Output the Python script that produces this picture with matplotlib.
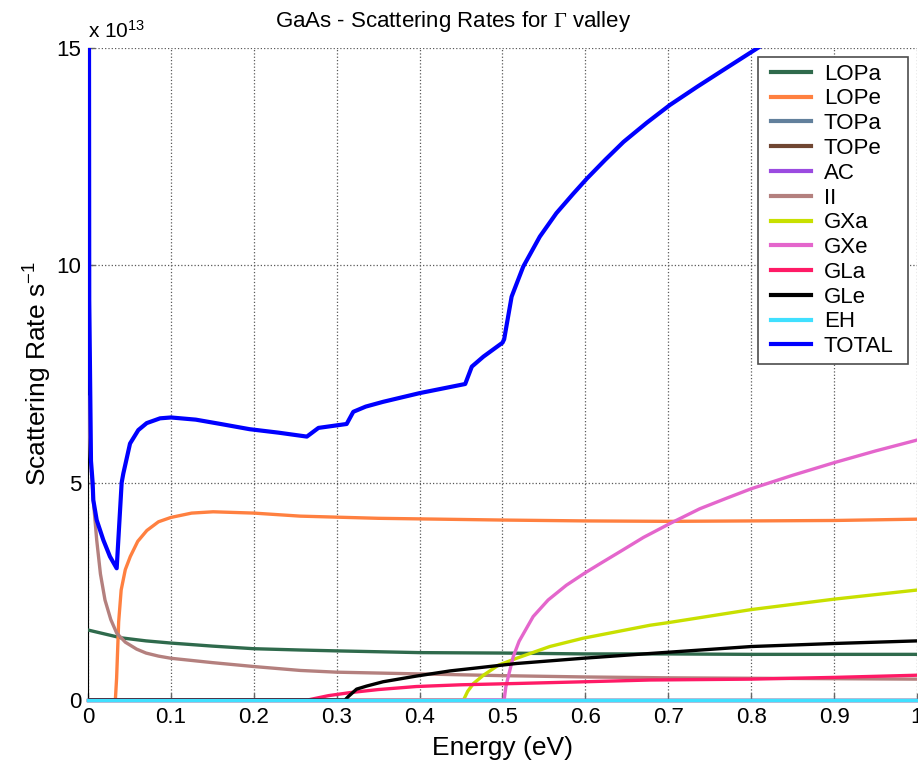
import matplotlib
matplotlib.use('Agg')
import matplotlib.pyplot as plt
import numpy as np
from matplotlib.lines import Line2D
from matplotlib.legend_handler import HandlerLine2D

plt.rcParams['font.family'] = ['Liberation Sans', 'DejaVu Sans']
plt.rcParams['mathtext.fontset'] = 'custom'
plt.rcParams['mathtext.rm'] = 'Liberation Serif'
plt.rcParams['mathtext.sf'] = 'Liberation Sans'
plt.rcParams['mathtext.it'] = 'Liberation Sans:italic'

# rates in units of 1e13 s^-1, energy in eV
E_lopa = [0, 0.02, 0.04, 0.07, 0.1, 0.15, 0.2, 0.256, 0.3, 0.4, 0.5, 0.6, 0.7, 0.8, 0.9, 1.0]
lopa = [1.61, 1.52, 1.43, 1.36, 1.31, 1.24, 1.18, 1.15, 1.13, 1.09, 1.08, 1.06, 1.06, 1.05, 1.05, 1.05]

E_lope = [0.0, 0.033, 0.0345, 0.037, 0.04, 0.045, 0.051, 0.06, 0.071, 0.085, 0.1, 0.125, 0.151,
          0.2, 0.256, 0.35, 0.5, 0.6, 0.7, 0.8, 0.9, 1.0]
lope = [0, 0, 0.5, 1.8, 2.53, 3.0, 3.3, 3.65, 3.9, 4.1, 4.2, 4.3, 4.33,
        4.3, 4.23, 4.18, 4.14, 4.12, 4.11, 4.12, 4.13, 4.16]

E_zero = [0.0, 1.0]
topa = [0, 0]
tope = [0, 0]
ac = [0, 0]
eh = [0, 0]

E_ii = [0, 0.003, 0.0064, 0.0105, 0.015, 0.0205, 0.0275, 0.0346, 0.045, 0.0587, 0.07, 0.085,
        0.1, 0.15, 0.2, 0.256, 0.3, 0.4, 0.5, 0.6, 0.7, 0.8, 0.9, 1.0]
ii = [6.97, 5.6, 4.6, 3.68, 2.9, 2.3, 1.85, 1.54, 1.33, 1.17, 1.08, 1.01,
      0.96, 0.86, 0.77, 0.68, 0.64, 0.6, 0.56, 0.53, 0.51, 0.5, 0.49, 0.48]

E_gxa = [0, 0.453, 0.458, 0.465, 0.477, 0.495, 0.517, 0.557, 0.597, 0.678, 0.7, 0.8, 0.9, 1.0]
gxa = [0, 0, 0.2, 0.38, 0.57, 0.8, 0.96, 1.23, 1.42, 1.72, 1.78, 2.08, 2.32, 2.53]

E_gxe = [0, 0.502, 0.504, 0.507, 0.513, 0.52, 0.537, 0.555, 0.577, 0.6, 0.618, 0.645, 0.67,
         0.702, 0.738, 0.77, 0.8, 0.85, 0.9, 0.95, 1.0]
gxe = [0, 0, 0.3, 0.54, 1.0, 1.35, 1.92, 2.3, 2.64, 2.93, 3.14, 3.45, 3.74,
       4.06, 4.4, 4.64, 4.86, 5.17, 5.46, 5.73, 5.98]

E_gla = [0, 0.265, 0.29, 0.316, 0.35, 0.396, 0.45, 0.517, 0.6, 0.678, 0.8, 0.9, 1.0]
gla = [0, 0, 0.1, 0.17, 0.24, 0.31, 0.35, 0.38, 0.42, 0.46, 0.48, 0.52, 0.57]

E_gle = [0, 0.31, 0.314, 0.324, 0.336, 0.356, 0.396, 0.437, 0.517, 0.597, 0.678, 0.8, 0.9, 1.0]
gle = [0, 0, 0.08, 0.25, 0.32, 0.42, 0.55, 0.67, 0.84, 0.96, 1.07, 1.23, 1.3, 1.36]

E_tot = [0, 0.0012, 0.0015, 0.0036, 0.0056, 0.0064, 0.0105, 0.0185, 0.0265, 0.0346, 0.0406,
         0.0426, 0.0507, 0.0607, 0.0708, 0.0869, 0.1, 0.13, 0.16, 0.195, 0.23, 0.264, 0.278,
         0.312, 0.32, 0.335, 0.356, 0.4, 0.455, 0.463, 0.477, 0.5, 0.502, 0.511, 0.525, 0.545,
         0.565, 0.585, 0.602, 0.624, 0.646, 0.674, 0.702, 0.735, 0.766, 0.807, 0.85, 0.9,
         0.95, 1.0]
total = [45, 15.5, 9.2, 5.5, 5.0, 4.6, 4.14, 3.68, 3.3, 3.03, 5.0,
         5.21, 5.9, 6.21, 6.37, 6.48, 6.5, 6.45, 6.35, 6.23, 6.15, 6.06, 6.26,
         6.35, 6.63, 6.75, 6.86, 7.06, 7.27, 7.67, 7.9, 8.22, 8.3, 9.28, 9.97, 10.66,
         11.2, 11.64, 12.0, 12.43, 12.84, 13.28, 13.69, 14.11, 14.49, 14.99, 15.5, 16.1,
         16.6, 17.1]

series = [
    ('LOPa', E_lopa, lopa, '#2f6a4c'),
    ('LOPe', E_lope, lope, '#ff8040'),
    ('TOPa', E_zero, topa, '#62809c'),
    ('TOPe', E_zero, tope, '#704632'),
    ('AC', E_zero, ac, '#9b4be0'),
    ('II', E_ii, ii, '#b4807e'),
    ('GXa', E_gxa, gxa, '#c8e000'),
    ('GXe', E_gxe, gxe, '#e466cc'),
    ('GLa', E_gla, gla, '#ff1a66'),
    ('GLe', E_gle, gle, '#000000'),
    ('EH', E_zero, eh, '#40e0ff'),
    ('TOTAL', E_tot, total, '#0000ff'),
]

fig = plt.figure(figsize=(9.18, 7.67), dpi=100)
ax = fig.add_axes([88/918, 67/767, 829/918, 652/767])

for name, x, y, c in series:
    lw = 3.0 if name == 'TOTAL' else 2.4
    flat = max(y) == 0
    ax.plot(x, y, color=c, lw=lw, label=name, zorder=3, clip_on=not flat)

ax.set_xlim(0, 1)
ax.set_ylim(0, 15)
ax.set_xticks(np.arange(0, 1.01, 0.1))
ax.set_xticklabels(['0', '0.1', '0.2', '0.3', '0.4', '0.5', '0.6', '0.7', '0.8', '0.9', '1'])
ax.set_yticks([0, 5, 10, 15])
ax.tick_params(direction='in', length=5, width=1, color='0.4', labelsize=16, pad=5)
ax.grid(True, linestyle=':', color='0.35', lw=0.9)
ax.spines['top'].set_visible(False)
ax.spines['right'].set_visible(False)

ax.set_xlabel('Energy (eV)', fontsize=19)
ax.set_ylabel(r'Scattering Rate s$^{\mathsf{-1}}$', fontsize=19)
ax.xaxis.set_label_coords(0.5, -0.055)
ax.yaxis.set_label_coords(-0.041, 0.5)

fig.text(453/918, 1 - 21/767, r'GaAs - Scattering Rates for $\Gamma$ valley',
         ha='center', va='center', fontsize=16)
fig.text(88/918, 1 - 38/767, r'x 10$^{\mathsf{13}}$', ha='left', va='baseline', fontsize=15)

leg = ax.legend(loc='upper left', bbox_to_anchor=(758/918, 405/767, 150/918, 305/767),
                bbox_transform=fig.transFigure, mode='expand', borderaxespad=0, fontsize=16,
                handlelength=2.07, handletextpad=0.6, labelspacing=0.17,
                borderpad=0.3, fancybox=False, framealpha=1,
                handler_map={Line2D: HandlerLine2D(xpad=0.27)})
leg.get_frame().set_edgecolor('0.3')
leg.get_frame().set_linewidth(1.2)
for h in leg.get_lines():
    h.set_linewidth(3)

fig.savefig('out.png', dpi=100)
